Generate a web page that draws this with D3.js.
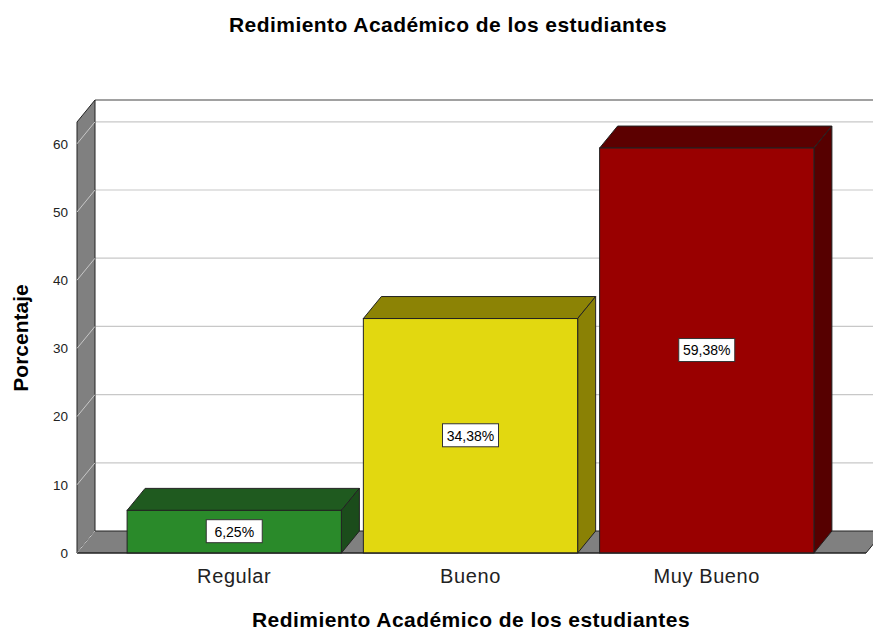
<html lang="es">
<head>
  <meta charset="UTF-8">
  <title>Redimiento Académico</title>
  <style>
    body { margin: 0; background: #fff; }
    svg { display: block; }
    text { font-family: 'Liberation Sans', Arial, sans-serif; }
    .title { font-size: 21px; font-weight: bold; text-anchor: middle; fill: #000; letter-spacing: 0.45px; }
    .tick text { font-size: 13.5px; fill: #222; }
    .cat-label { font-size: 20px; fill: #222; text-anchor: middle; letter-spacing: 0.6px; }
    .bar-label { font-size: 14px; fill: #000; text-anchor: middle; }
  </style>
</head>
<body>
  <script src="https://cdn.jsdelivr.net/npm/d3@7"></script>
  <script>
    var categories = ['Regular', 'Bueno', 'Muy Bueno'];
    var values = [6.25, 34.38, 59.38];
    var valueLabels = ['6,25%', '34,38%', '59,38%'];
    var frontColors = ['#2a8a2a', '#e2d810', '#990000'];
    var topColors = ['#1f5a1f', '#8c8305', '#5c0000'];
    var sideColors = ['#1b4c1b', '#8a8105', '#560000'];
    var yTicks = [0, 10, 20, 30, 40, 50, 60];

    var width = 873, height = 628;
    var dx = 18, dy = -22;          // depth offset of the 3D effect
    var pLeft = 77, pBottom = 553, pTop = 122, pRight = 866;

    var svg = d3.select('body').append('svg')
      .attr('width', width)
      .attr('height', height);

    var y = d3.scaleLinear().domain([0, 63.2]).range([pBottom, pTop]);
    var x = d3.scaleBand().domain(categories).range([116, 825])
      .paddingInner(0.093).paddingOuter(0.047);

    // back wall
    svg.append('rect')
      .attr('x', pLeft + dx).attr('y', pTop + dy)
      .attr('width', width).attr('height', pBottom - pTop)
      .attr('fill', '#fff');

    // gridlines on back wall
    svg.selectAll('.grid')
      .data(yTicks.slice(1).concat([63.2]))
      .enter().append('line')
      .attr('x1', pLeft + dx).attr('x2', width)
      .attr('y1', function(d) { return y(d) + dy; })
      .attr('y2', function(d) { return y(d) + dy; })
      .attr('stroke', function(d) { return d > 61 ? '#444' : '#c8c8c8'; })
      .attr('stroke-width', 1.2);

    // left wall
    svg.append('path')
      .attr('d', 'M' + pLeft + ',' + pBottom + 'L' + pLeft + ',' + pTop +
        'L' + (pLeft + dx) + ',' + (pTop + dy) + 'L' + (pLeft + dx) + ',' + (pBottom + dy) + 'Z')
      .attr('fill', '#808080').attr('stroke', '#222').attr('stroke-width', 1);

    svg.selectAll('.wall-grid')
      .data(yTicks.slice(1))
      .enter().append('line')
      .attr('x1', pLeft).attr('x2', pLeft + dx)
      .attr('y1', function(d) { return y(d); })
      .attr('y2', function(d) { return y(d) + dy; })
      .attr('stroke', '#c8c8c8').attr('stroke-width', 1);

    // floor
    svg.append('path')
      .attr('d', 'M' + pLeft + ',' + pBottom + 'L' + (pLeft + dx) + ',' + (pBottom + dy) +
        'L' + (pRight + dx) + ',' + (pBottom + dy) + 'L' + pRight + ',' + pBottom + 'Z')
      .attr('fill', '#808080').attr('stroke', '#222').attr('stroke-width', 1);

    svg.append('line')
      .attr('x1', pLeft).attr('x2', pLeft + dx)
      .attr('y1', pBottom).attr('y2', pBottom + dy)
      .attr('stroke', '#c8c8c8');

    // bars
    var bars = svg.selectAll('.bar')
      .data(values)
      .enter().append('g')
      .attr('class', 'bar');

    bars.append('path')
      .attr('d', function(d, i) {
        var x0 = x(categories[i]), x1 = x0 + x.bandwidth(), yt = y(d);
        return 'M' + x0 + ',' + yt + 'L' + (x0 + dx) + ',' + (yt + dy) +
          'L' + (x1 + dx) + ',' + (yt + dy) + 'L' + x1 + ',' + yt + 'Z';
      })
      .attr('fill', function(d, i) { return topColors[i]; })
      .attr('stroke', '#222').attr('stroke-width', 1);

    bars.append('path')
      .attr('d', function(d, i) {
        var x1 = x(categories[i]) + x.bandwidth(), yt = y(d);
        return 'M' + x1 + ',' + yt + 'L' + (x1 + dx) + ',' + (yt + dy) +
          'L' + (x1 + dx) + ',' + (pBottom + dy) + 'L' + x1 + ',' + pBottom + 'Z';
      })
      .attr('fill', function(d, i) { return sideColors[i]; })
      .attr('stroke', '#222').attr('stroke-width', 1);

    bars.append('rect')
      .attr('x', function(d, i) { return x(categories[i]); })
      .attr('y', function(d) { return y(d); })
      .attr('width', x.bandwidth())
      .attr('height', function(d) { return pBottom - y(d); })
      .attr('fill', function(d, i) { return frontColors[i]; })
      .attr('stroke', '#222').attr('stroke-width', 1);

    // value labels
    var labels = bars.append('g')
      .attr('transform', function(d, i) {
        return 'translate(' + (x(categories[i]) + x.bandwidth() / 2) + ',' + ((y(d) + pBottom) / 2) + ')';
      });
    labels.append('rect')
      .attr('x', -28).attr('y', -12).attr('width', 56).attr('height', 23)
      .attr('fill', '#fff').attr('stroke', '#333').attr('stroke-width', 1);
    labels.append('text')
      .attr('class', 'bar-label')
      .attr('dy', '0.35em')
      .text(function(d, i) { return valueLabels[i]; });

    // front bottom edge
    svg.append('line')
      .attr('x1', pLeft).attr('x2', pRight)
      .attr('y1', pBottom).attr('y2', pBottom)
      .attr('stroke', '#222').attr('stroke-width', 1.2);

    // y axis labels
    var yAxis = svg.append('g')
      .attr('transform', 'translate(' + (pLeft - 9) + ',0)')
      .call(d3.axisLeft(y).tickValues(yTicks).tickSize(0).tickPadding(0));
    yAxis.select('.domain').remove();
    yAxis.selectAll('text')
      .style('font-family', "'Liberation Sans', Arial, sans-serif")
      .style('font-size', '13.5px').attr('fill', '#222');

    // category labels
    svg.selectAll('.cat-label')
      .data(categories)
      .enter().append('text')
      .attr('class', 'cat-label')
      .attr('x', function(d) { return x(d) + x.bandwidth() / 2; })
      .attr('y', 583)
      .text(function(d) { return d; });

    // titles
    svg.append('text').attr('class', 'title')
      .attr('x', 448).attr('y', 32)
      .text('Redimiento Académico de los estudiantes');

    svg.append('text').attr('class', 'title')
      .attr('x', 471).attr('y', 627)
      .text('Redimiento Académico de los estudiantes');

    svg.append('text').attr('class', 'title')
      .attr('transform', 'translate(28,338) rotate(-90)')
      .style('letter-spacing', '0px')
      .text('Porcentaje');
  </script>
</body>
</html>
